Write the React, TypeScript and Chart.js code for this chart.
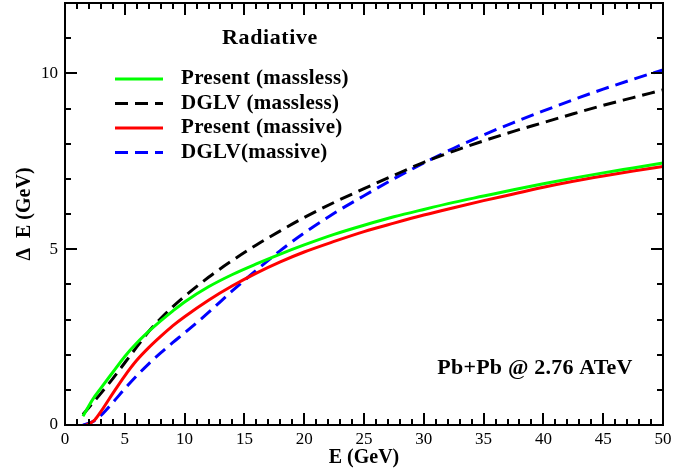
import React, { useEffect, useRef } from "react";
import { Chart, registerables } from "chart.js";

Chart.register(...registerables);

// Energy E (GeV)
const energyGeV = [1.5, 1.75, 2, 2.5, 3, 4, 5, 6, 7, 8, 9, 10, 12, 14, 16, 18, 20, 22.5, 25, 27.5, 30, 32.5, 35, 37.5, 40, 42.5, 45, 47.5, 50];

// Delta E (GeV)
const presentMassless = [0.25, 0.4, 0.55, 0.82, 1.05, 1.5, 1.95, 2.33, 2.66, 2.96, 3.24, 3.5, 3.93, 4.28, 4.58, 4.86, 5.12, 5.42, 5.68, 5.92, 6.13, 6.33, 6.51, 6.69, 6.86, 7.02, 7.17, 7.31, 7.45];
const dglvMassless = [0.3, 0.4, 0.5, 0.7, 0.9, 1.32, 1.77, 2.22, 2.66, 3.03, 3.36, 3.66, 4.2, 4.68, 5.12, 5.52, 5.9, 6.33, 6.72, 7.1, 7.47, 7.79, 8.08, 8.35, 8.6, 8.85, 9.09, 9.31, 9.53];
const presentMassive = [null, 0, 0.03, 0.15, 0.38, 0.9, 1.4, 1.84, 2.2, 2.52, 2.82, 3.08, 3.55, 3.96, 4.32, 4.64, 4.92, 5.22, 5.5, 5.74, 5.97, 6.18, 6.38, 6.57, 6.76, 6.93, 7.08, 7.22, 7.35];
const dglvMassive = [0, 0.02, 0.05, 0.13, 0.27, 0.64, 1.03, 1.4, 1.74, 2.05, 2.34, 2.62, 3.2, 3.82, 4.4, 4.96, 5.46, 6.02, 6.52, 7.0, 7.45, 7.87, 8.25, 8.6, 8.93, 9.25, 9.55, 9.83, 10.1];

const seriesLabels = ["Present (massless)", "DGLV (massless)", "Present (massive)", "DGLV(massive)"];
const seriesColors = ["#00ff00", "#000000", "#ff0000", "#0000ff"];
const seriesDashed = [false, true, false, true];

const xTickStep = 5;
const yTickStep = 5;
const xRange = [0, 50];
const yRange = [0, 12];

const titleText = "Radiative";
const systemText = "Pb+Pb @ 2.76 ATeV";
const xTitle = "E (GeV)";
const yTitle = "\u0394  E (GeV)";

const SERIF = "'Liberation Serif', 'Times New Roman', serif";
const DASH = [13, 7];

const framePlugin = {
  id: "framePlugin",
  afterDraw(chart: any) {
    const { ctx, chartArea, scales } = chart;
    const { left, right, top, bottom } = chartArea;
    ctx.save();
    ctx.strokeStyle = "#000";
    ctx.lineWidth = 2;
    ctx.setLineDash([]);
    ctx.strokeRect(left, top, right - left, bottom - top);
    // x ticks (inward, bottom and top)
    for (let v = xRange[0]; v <= xRange[1]; v += 1) {
      const px = Math.round(scales.x.getPixelForValue(v));
      const len = v % 5 === 0 ? 12 : 6;
      ctx.beginPath();
      ctx.moveTo(px, bottom);
      ctx.lineTo(px, bottom - len);
      ctx.moveTo(px, top);
      ctx.lineTo(px, top + len);
      ctx.stroke();
    }
    for (let v = yRange[0]; v <= yRange[1]; v += 1) {
      const py = Math.round(scales.y.getPixelForValue(v));
      const len = v % 5 === 0 ? 12 : 6;
      ctx.beginPath();
      ctx.moveTo(left, py);
      ctx.lineTo(left + len, py);
      ctx.moveTo(right, py);
      ctx.lineTo(right - len, py);
      ctx.stroke();
    }
    // Title inside plot
    ctx.fillStyle = "#000";
    ctx.textBaseline = "middle";
    ctx.textAlign = "center";
    ctx.font = `bold 22px ${SERIF}`;
    (ctx as any).letterSpacing = "0.6px";
    ctx.fillText(titleText, 270, 38);
    // Legend
    const rows = [79, 103.5, 128, 152.5];
    chart.data.datasets.forEach((ds: any, i: number) => {
      const y = rows[i];
      ctx.beginPath();
      ctx.strokeStyle = ds.borderColor;
      ctx.lineWidth = 3;
      ctx.setLineDash(ds.borderDash || []);
      ctx.moveTo(115, y);
      ctx.lineTo(163, y);
      ctx.stroke();
      ctx.setLineDash([]);
      ctx.fillStyle = "#000";
      ctx.textAlign = "left";
      ctx.font = `bold 21px ${SERIF}`;
      (ctx as any).letterSpacing = "0.3px";
      ctx.fillText(ds.label, 181, y);
    });
    ctx.textAlign = "center";
    ctx.font = `bold 22px ${SERIF}`;
    (ctx as any).letterSpacing = "0.2px";
    ctx.fillText(systemText, 535, 368);
    (ctx as any).letterSpacing = "0px";
    ctx.restore();
  },
};

export default function App() {
  const ref = useRef<HTMLCanvasElement | null>(null);
  useEffect(() => {
    if (!ref.current) return;
    const datasets = [presentMassless, dglvMassless, presentMassive, dglvMassive].map((vals, i) => ({
      label: seriesLabels[i],
      data: energyGeV.map((e, j) => ({ x: e, y: vals[j] })),
      borderColor: seriesColors[i],
      backgroundColor: seriesColors[i],
      borderWidth: 3,
      borderDash: seriesDashed[i] ? DASH : [],
      pointRadius: 0,
      fill: false,
      cubicInterpolationMode: "monotone" as const,
      spanGaps: false,
    }));
    const chart = new Chart(ref.current, {
      type: "line",
      data: { datasets },
      options: {
        responsive: false,
        animation: false,
        devicePixelRatio: 1,
        layout: { padding: { top: 3, right: 32, left: 0, bottom: 0 } },
        plugins: { legend: { display: false }, tooltip: { enabled: false } },
        scales: {
          x: {
            type: "linear",
            min: xRange[0],
            max: xRange[1],
            grid: { display: false, drawTicks: false },
            border: { display: false },
            ticks: {
              stepSize: xTickStep,
              autoSkip: false,
              maxRotation: 0,
              padding: 4,
              color: "#000",
              font: { family: SERIF, size: 17 },
              callback: (v: any) => (Number(v) % xTickStep === 0 ? String(v) : ""),
            },
            title: {
              display: true,
              text: xTitle,
              color: "#000",
              font: { family: SERIF, size: 20, weight: "bold" },
              padding: { top: 0, bottom: 3 },
            },
            afterFit: (s: any) => {
              s.height = 48;
              s.paddingLeft = 0;
              s.paddingRight = 0;
            },
          },
          y: {
            type: "linear",
            min: yRange[0],
            max: yRange[1],
            grid: { display: false, drawTicks: false },
            border: { display: false },
            ticks: {
              stepSize: yTickStep,
              autoSkip: false,
              padding: 7,
              color: "#000",
              font: { family: SERIF, size: 17 },
              callback: (v: any) => (Number(v) % yTickStep === 0 ? String(v) : ""),
            },
            title: {
              display: true,
              text: yTitle,
              color: "#000",
              font: { family: SERIF, size: 20, weight: "bold" },
              padding: { top: 13, bottom: 0 },
            },
            afterFit: (s: any) => {
              s.width = 65;
              s.paddingTop = 0;
              s.paddingBottom = 0;
            },
          },
        },
      },
      plugins: [framePlugin],
    });
    return () => chart.destroy();
  }, []);
  return (
    <div style={{ position: "absolute", left: 0, top: 0, width: 695, height: 473, background: "#fff" }}>
      <canvas ref={ref} width={695} height={473} style={{ width: 695, height: 473, display: "block" }} />
    </div>
  );
}
